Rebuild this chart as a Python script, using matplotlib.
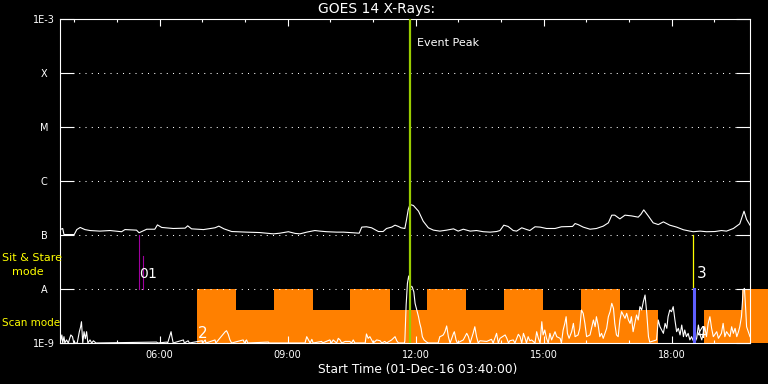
import numpy as np
import matplotlib
matplotlib.use('Agg')
import matplotlib.pyplot as plt
from matplotlib.ticker import FixedLocator, FuncFormatter, NullLocator

# time axis, hours of 01-Dec-16
t_start = 3 + 40 / 60
t_end = 19.84

# GOES 14 long channel (1-8 A), flux in units of 1e-7 W/m2
long_t = [3.67, 3.73, 3.76, 4.00, 4.06, 4.14, 4.25, 4.37, 4.60, 4.84, 5.11, 5.19, 5.46, 5.52,
          5.70, 5.89, 5.95, 6.05, 6.32, 6.60, 6.66, 6.75, 7.03, 7.30, 7.39, 7.51, 7.69, 8.04,
          8.35, 8.67, 8.82, 9.02, 9.18, 9.29, 9.45, 9.64, 9.76, 9.92, 10.15, 10.31, 10.54,
          10.68, 10.74, 10.85, 10.97, 11.13, 11.24, 11.32, 11.44, 11.52, 11.60, 11.66, 11.75,
          11.79, 11.83, 11.87, 11.95, 12.07, 12.18, 12.30, 12.42, 12.57, 12.73, 12.89, 13.00,
          13.12, 13.28, 13.43, 13.59, 13.75, 13.90, 13.98, 14.07, 14.17, 14.29, 14.37, 14.49,
          14.61, 14.68, 14.80, 14.92, 15.07, 15.27, 15.42, 15.68, 15.74, 15.81, 15.93, 16.09,
          16.24, 16.40, 16.52, 16.60, 16.67, 16.79, 16.91, 17.06, 17.22, 17.28, 17.35, 17.46,
          17.57, 17.69, 17.81, 17.96, 18.12, 18.28, 18.43, 18.51, 18.67, 18.82, 19.02, 19.17,
          19.29, 19.45, 19.60, 19.70, 19.76, 19.84]
long_flux = [1.26, 1.32, 1.02, 1.02, 1.26, 1.38, 1.26, 1.21, 1.18, 1.21, 1.15, 1.26, 1.23, 1.10,
             1.28, 1.28, 1.54, 1.38, 1.32, 1.34, 1.48, 1.30, 1.26, 1.36, 1.46, 1.30, 1.16, 1.13,
             1.11, 1.05, 1.08, 1.15, 1.07, 1.05, 1.13, 1.21, 1.18, 1.15, 1.13, 1.13, 1.10,
             1.08, 1.40, 1.42, 1.36, 1.16, 1.16, 1.32, 1.40, 1.52, 1.44, 1.36, 1.32,
             1.94, 2.97, 3.67, 3.52, 2.76, 1.80, 1.36, 1.23, 1.18, 1.23, 1.30, 1.18,
             1.28, 1.18, 1.21, 1.15, 1.13, 1.16, 1.21, 1.52, 1.44, 1.21, 1.18, 1.36,
             1.26, 1.21, 1.42, 1.40, 1.32, 1.32, 1.42, 1.44, 1.63, 1.56, 1.40, 1.28,
             1.32, 1.46, 1.68, 2.33, 2.33, 1.99, 2.33, 2.26, 2.14, 2.40, 2.92, 2.23,
             1.68, 1.56, 1.75, 1.52, 1.40, 1.25, 1.18, 1.15, 1.18, 1.15, 1.16, 1.21,
             1.18, 1.32, 1.61, 2.76, 1.94, 1.52]

# GOES 14 short channel (0.5-4 A), flux in units of 1e-9 W/m2
short_t = [3.67, 3.71, 3.73, 3.76, 3.78, 3.82, 3.86, 3.92, 3.96, 3.99, 4.07, 4.12, 4.15, 4.17,
           4.20, 4.23, 4.26, 4.29, 4.32, 4.37, 4.41, 4.45, 4.51, 5.93, 5.96, 6.17, 6.19, 6.27,
           6.29, 6.32, 6.56, 6.58, 6.67, 6.70, 6.99, 7.01, 7.07, 7.09, 7.30, 7.32, 7.54, 7.57,
           7.61, 7.65, 7.69, 7.96, 7.99, 8.04, 8.07, 8.55, 8.57, 9.41, 9.45, 9.49, 9.53,
           9.57, 9.60, 9.80, 9.82, 9.99, 10.03, 10.07, 10.15, 10.19, 10.23, 10.27, 10.35, 10.46,
           10.50, 10.54, 10.58, 10.82, 10.85, 10.89, 10.93, 10.97, 11.01, 11.09, 11.17, 11.21,
           11.28, 11.32, 11.44, 11.52, 11.56, 11.60, 11.74, 11.75, 11.78, 11.81, 11.84, 11.89,
           11.92, 11.96, 11.99, 12.03, 12.07, 12.10, 12.13, 12.16, 12.20, 12.26, 12.30, 12.53,
           12.57, 12.61, 12.65, 12.69, 12.73, 12.77, 12.81, 12.85, 12.89, 12.91, 12.95, 12.98,
           13.12, 13.20, 13.24, 13.28, 13.35, 13.39, 13.43, 13.47, 13.51, 13.67, 13.78, 13.82,
           13.90, 13.94, 13.98, 14.10, 14.14, 14.18, 14.21, 14.29, 14.33, 14.41, 14.45, 14.49,
           14.53, 14.57, 14.60, 14.64, 14.68, 14.72, 14.80, 14.84, 14.88, 14.92, 14.96, 14.99,
           15.03, 15.07, 15.11, 15.15, 15.19, 15.27, 15.31, 15.39, 15.42, 15.46, 15.50, 15.53,
           15.56, 15.60, 15.66, 15.70, 15.74, 15.81, 15.85, 15.89, 15.93, 15.97, 16.01, 16.09,
           16.17, 16.21, 16.24, 16.28, 16.32, 16.36, 16.40, 16.48, 16.52, 16.56, 16.60, 16.64,
           16.67, 16.71, 16.75, 16.79, 16.83, 16.87, 16.91, 16.95, 16.99, 17.03, 17.06, 17.10,
           17.14, 17.18, 17.22, 17.26, 17.30, 17.34, 17.38, 17.42, 17.46, 17.49, 17.65, 17.69,
           17.73, 17.77, 17.81, 17.85, 17.89, 17.92, 17.96, 18.00, 18.04, 18.08, 18.12, 18.16,
           18.20, 18.24, 18.28, 18.31, 18.35, 18.39, 18.43, 18.47, 18.51, 18.55, 18.59, 18.63,
           18.67, 18.71, 18.78, 18.82, 18.86, 18.90, 18.94, 18.98, 19.06, 19.10, 19.17, 19.21,
           19.25, 19.29, 19.37, 19.41, 19.45, 19.49, 19.53, 19.57, 19.60, 19.64, 19.68, 19.71,
           19.74, 19.76, 19.80, 19.84]
short_flux = [1.0, 1.41, 1.0, 1.31, 1.0, 1.14, 1.0, 1.41, 1.31, 1.0, 1.0, 1.62, 2.0, 2.48,
              1.0, 1.62, 1.2, 1.62, 1.0, 1.14, 1.0, 1.10, 1.0, 1.04, 1.0, 1.04, 1.0, 1.62,
              1.3, 1.0, 1.14, 1.0, 1.10, 1.0, 1.10, 1.0, 1.14, 1.0, 1.14, 1.0, 1.62, 1.69,
              1.45, 1.14, 1.0, 1.14, 1.0, 1.14, 1.0, 1.04, 1.0, 1.0, 1.31, 1.14, 1.0,
              1.17, 1.0, 1.07, 1.0, 1.14, 1.0, 1.14, 1.0, 1.22, 1.14, 1.0, 1.07, 1.07,
              1.0, 1.14, 1.0, 1.0, 1.47, 1.22, 1.31, 1.14, 1.0, 1.14, 1.10, 1.0,
              1.07, 1.0, 1.14, 1.31, 1.10, 1.0, 1.0, 1.10, 5.06, 12.7, 17.4, 11.0,
              11.0, 8.9, 5.4, 4.08, 3.07, 2.31, 1.87, 1.31, 1.14, 1.04, 1.0, 1.0,
              1.31, 1.35, 1.41, 1.62, 2.07, 1.31, 1.0, 1.22, 1.51, 1.62, 1.14, 1.0,
              1.14, 1.51, 1.31, 1.0, 1.51, 2.0, 1.31, 1.0, 1.10, 1.07, 1.17, 1.0,
              1.51, 1.0, 1.22, 1.41, 1.22, 1.0, 1.10, 1.14, 1.0, 1.45, 1.31, 1.0,
              1.51, 1.22, 1.0, 1.31, 1.1, 1.14, 1.0, 1.62, 1.22, 1.0, 2.48, 1.41,
              1.74, 1.22, 1.0, 1.51, 1.14, 1.62, 1.31, 1.22, 1.0, 1.74, 2.31, 3.07,
              1.51, 1.22, 1.62, 2.31, 1.31, 1.41, 1.87, 4.08, 3.54, 2.31, 1.31, 1.41,
              2.67, 2.0, 3.07, 2.15, 1.31, 1.51, 1.22, 1.87, 3.07, 3.80, 5.43, 4.39,
              2.31, 1.41, 1.31, 2.67, 3.80, 3.30, 2.86, 3.54, 2.67, 2.31, 3.07, 1.62,
              2.31, 3.30, 2.67, 4.71, 4.08, 5.82, 7.74, 3.54, 1.31, 1.04, 1.14, 2.67,
              2.0, 1.74, 1.51, 2.31, 1.87, 3.07, 4.08, 3.80, 4.71, 2.67, 1.62, 1.87,
              1.41, 2.15, 1.31, 1.74, 1.31, 1.51, 1.14, 1.31, 1.10, 1.04, 1.22, 2.15,
              1.41, 1.14, 2.0, 1.31, 2.31, 3.07, 1.87, 1.31, 1.62, 1.22, 1.51, 2.31,
              1.31, 1.62, 1.31, 2.0, 1.51, 1.87, 1.31, 1.62, 2.0, 3.07, 9.58, 10.3,
              4.08, 2.0, 1.62, 1.31]

# scan mode blocks (start, end in hours, 'hi' reaches A level)
scan_start = [6.88, 7.79, 8.68, 9.60, 10.46, 11.40, 12.27, 13.18, 14.07, 14.99, 15.88, 16.79, 18.76, 19.65]
scan_end = [7.79, 8.68, 9.60, 10.46, 11.40, 12.27, 13.18, 14.07, 14.99, 15.88, 16.79, 17.68, 19.65, 20.26]
scan_level = ['hi', 'lo', 'hi', 'lo', 'hi', 'lo', 'hi', 'lo', 'hi', 'lo', 'hi', 'lo', 'lo', 'hi']

event_peak = 11.86
level_vals = [1e-9, 1e-8, 1e-7, 1e-6, 1e-5, 1e-4, 1e-3]
level_names = ['1E-9', 'A', 'B', 'C', 'M', 'X', '1E-3']

fig = plt.figure(figsize=(7.68, 3.84), dpi=100, facecolor='black')
ax = fig.add_axes([60 / 768, 41 / 384, 690 / 768, 324 / 384])
ax.set_facecolor('black')
ax.set_yscale('log')
ax.set_ylim(1e-9, 1e-3)
ax.set_xlim(t_start, t_end)

# orange scan mode bars
for s, e, lv in zip(scan_start, scan_end, scan_level):
    top = 1e-8 if lv == 'hi' else 4.1e-9
    b = ax.bar(s, top - 1e-9, width=e - s, bottom=1e-9, align='edge', color='#ff8000',
               linewidth=0, zorder=1)
    if e > t_end:
        b[0].set_clip_on(False)

# dotted level lines
for v in level_vals[1:-1]:
    ax.axhline(v, color='white', lw=0.75, dashes=(1, 5), zorder=2)

ax.plot(long_t, np.array(long_flux) * 1e-7, color='white', lw=0.8, zorder=3)
ax.plot(short_t, np.array(short_flux) * 1e-9, color='white', lw=0.8, zorder=3)

# event peak
ax.axvline(event_peak, color='#99cc00', lw=1.6, zorder=4)
ax.text(12.03, 4.5e-4, 'Event Peak', color='white', fontsize=8, va='top', ha='left')

# mode change markers
ax.plot([5.52, 5.52], [1e-7, 1e-8], color='#a000a0', lw=0.8, zorder=4)
ax.plot([5.61, 5.61], [4.1e-8, 1e-8], color='#a000a0', lw=0.8, zorder=4)
ax.plot([18.50, 18.50], [1e-7, 1e-8], color='yellow', lw=0.9, zorder=4)
ax.plot([18.52, 18.52], [1e-8, 1e-9], color='#5f5fff', lw=2.2, zorder=4)
for x, y, s, fs in [(5.53, 1.4e-8, '0', 10), (5.72, 1.4e-8, '1', 10), (6.90, 1.1e-9, '2', 11),
                    (18.59, 1.4e-8, '3', 11), (18.59, 1.1e-9, '4', 11)]:
    ax.text(x, y, s, color='white', fontsize=fs, ha='left', va='bottom', zorder=5)

# axes styling
for sp in ax.spines.values():
    sp.set_color('white')
    sp.set_linewidth(0.8)
ax.yaxis.set_major_locator(FixedLocator(level_vals))
ax.yaxis.set_minor_locator(NullLocator())
ax.set_yticklabels(level_names)
ax.tick_params(axis='y', which='major', direction='in', length=10, width=0.8, color='white',
               labelcolor='white', labelsize=7, right=True, pad=11.5)
for lab in ax.get_yticklabels():
    lab.set_horizontalalignment('center')

ax.xaxis.set_major_locator(FixedLocator([6, 9, 12, 15, 18]))
ax.xaxis.set_minor_locator(FixedLocator(range(4, 20)))
ax.xaxis.set_major_formatter(FuncFormatter(lambda h, p: f"{int(h):02d}:00"))
ax.tick_params(axis='x', which='major', direction='in', length=5, width=0.8, color='white',
               labelcolor='white', labelsize=7, top=True, pad=5)
ax.tick_params(axis='x', which='minor', direction='in', length=2.2, width=0.8, color='white',
               top=True)

fig.text(318 / 768, 1 - 9 / 384, 'GOES 14 X-Rays:', color='white', fontsize=10, ha='left', va='center')
fig.text(318 / 768, 1 - 369 / 384, 'Start Time (01-Dec-16 03:40:00)', color='white', fontsize=8.8,
         ha='left', va='center')
fig.text(2 / 768, 1 - 258 / 384, 'Sit & Stare', color='yellow', fontsize=8, ha='left', va='center')
fig.text(12 / 768, 1 - 272 / 384, 'mode', color='yellow', fontsize=8, ha='left', va='center')
fig.text(2 / 768, 1 - 323 / 384, 'Scan mode', color='yellow', fontsize=7.5, ha='left', va='center')

fig.savefig('out.png', dpi=100, facecolor='black')
